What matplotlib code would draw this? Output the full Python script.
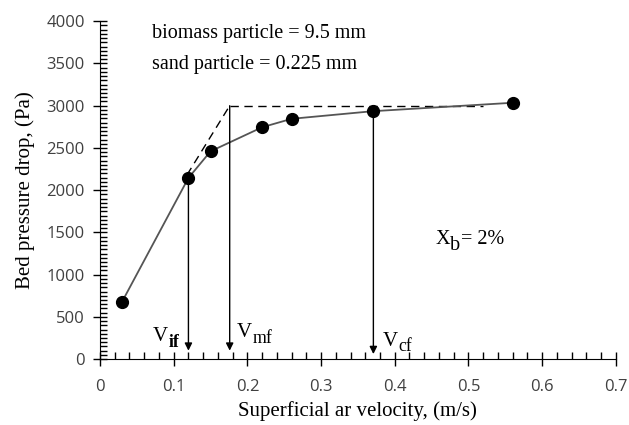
import numpy as np
import matplotlib
matplotlib.use("Agg")
from matplotlib import pyplot as plt
from matplotlib.ticker import MultipleLocator, FuncFormatter
from matplotlib.transforms import offset_copy

serif = "Liberation Serif"
sans = "Open Sans"

# measured data
velocity = [0.03, 0.12, 0.15, 0.22, 0.26, 0.37, 0.56]
pressure_drop = [680, 2145, 2460, 2745, 2845, 2935, 3035]

# characteristic velocities (m/s) and the fluidisation plateau
v_if, v_mf, v_cf = 0.12, 0.176, 0.371
dp_plateau = 3000
tangent_x = [0.118, 0.176]
tangent_y = [2180, 3000]
plateau_x = [0.176, 0.52]

fig = plt.figure(figsize=(6.29, 4.25), dpi=100)
ax = fig.add_axes([0.159, 0.155, 0.820, 0.795])

ax.plot(velocity, pressure_drop, color="#555555", lw=1.3, marker="o",
        markersize=8.5, markerfacecolor="black", markeredgecolor="black", zorder=3)

# dashed tangent and plateau
ax.plot(tangent_x, tangent_y, color="black", lw=1, ls=(0, (6, 4)))
ax.plot(plateau_x, [dp_plateau, dp_plateau], color="black", lw=1, ls=(0, (6, 4)))

# arrows for characteristic velocities
arrow_kw = dict(arrowstyle="-|>", color="black", lw=1, mutation_scale=11,
                shrinkA=0, shrinkB=0)
ax.annotate("", xy=(v_if, 100), xytext=(v_if, 2145), arrowprops=arrow_kw)
ax.annotate("", xy=(v_mf, 100), xytext=(v_mf, dp_plateau), arrowprops=arrow_kw)
ax.annotate("", xy=(v_cf, 60), xytext=(v_cf, 2935), arrowprops=arrow_kw)


def sub_label(x, y, main, sub, size, sub_weight="normal", dx=11):
    ax.text(x, y, main, fontsize=size, family=serif, va="baseline")
    tr = offset_copy(ax.transData, fig=fig, x=dx, y=-4, units="points")
    ax.text(x, y, sub, fontsize=size * 0.85, family=serif, va="baseline",
            weight=sub_weight, transform=tr)


sub_label(0.072, 210, "V", "if", 15, sub_weight="bold")
sub_label(0.186, 260, "V", "mf", 15)
sub_label(0.384, 160, "V", "cf", 15)
ax.text(0.455, 1360, "X", fontsize=14.5, family=serif)
ax.text(0.455, 1360, "b", fontsize=14.5, family=serif,
        transform=offset_copy(ax.transData, fig=fig, x=10.5, y=-4, units="points"))
ax.text(0.455, 1360, "= 2%", fontsize=14.5, family=serif,
        transform=offset_copy(ax.transData, fig=fig, x=18.5, y=0, units="points"))

ax.text(0.071, 3800, "biomass particle = 9.5 mm", fontsize=14.5, family=serif)
ax.text(0.071, 3435, "sand particle = 0.225 mm", fontsize=14.5, family=serif)

ax.set_xlim(0, 0.7)
ax.set_ylim(0, 4000)
ax.xaxis.set_major_locator(MultipleLocator(0.1))
ax.xaxis.set_minor_locator(MultipleLocator(0.02))
ax.yaxis.set_major_locator(MultipleLocator(500))
ax.yaxis.set_minor_locator(MultipleLocator(50))
ax.xaxis.set_major_formatter(FuncFormatter(lambda v, p: "0" if abs(v) < 1e-9 else f"{v:.1f}"))
ax.tick_params(which="major", direction="inout", length=10, width=1, pad=6)
ax.tick_params(axis="x", which="major", pad=9)
ax.tick_params(which="minor", direction="in", length=5, width=1)
ax.tick_params(labelsize=12, colors="black")
for lab in ax.get_xticklabels() + ax.get_yticklabels():
    lab.set_family(sans)
    lab.set_color("#404040")

ax.spines["top"].set_visible(False)
ax.spines["right"].set_visible(False)

ax.set_xlabel("Superficial ar velocity, (m/s)", fontsize=15, family=serif, labelpad=5)
ax.set_ylabel("Bed pressure drop, (Pa)", fontsize=15, family=serif, labelpad=8)

fig.savefig("out.png", dpi=100)
